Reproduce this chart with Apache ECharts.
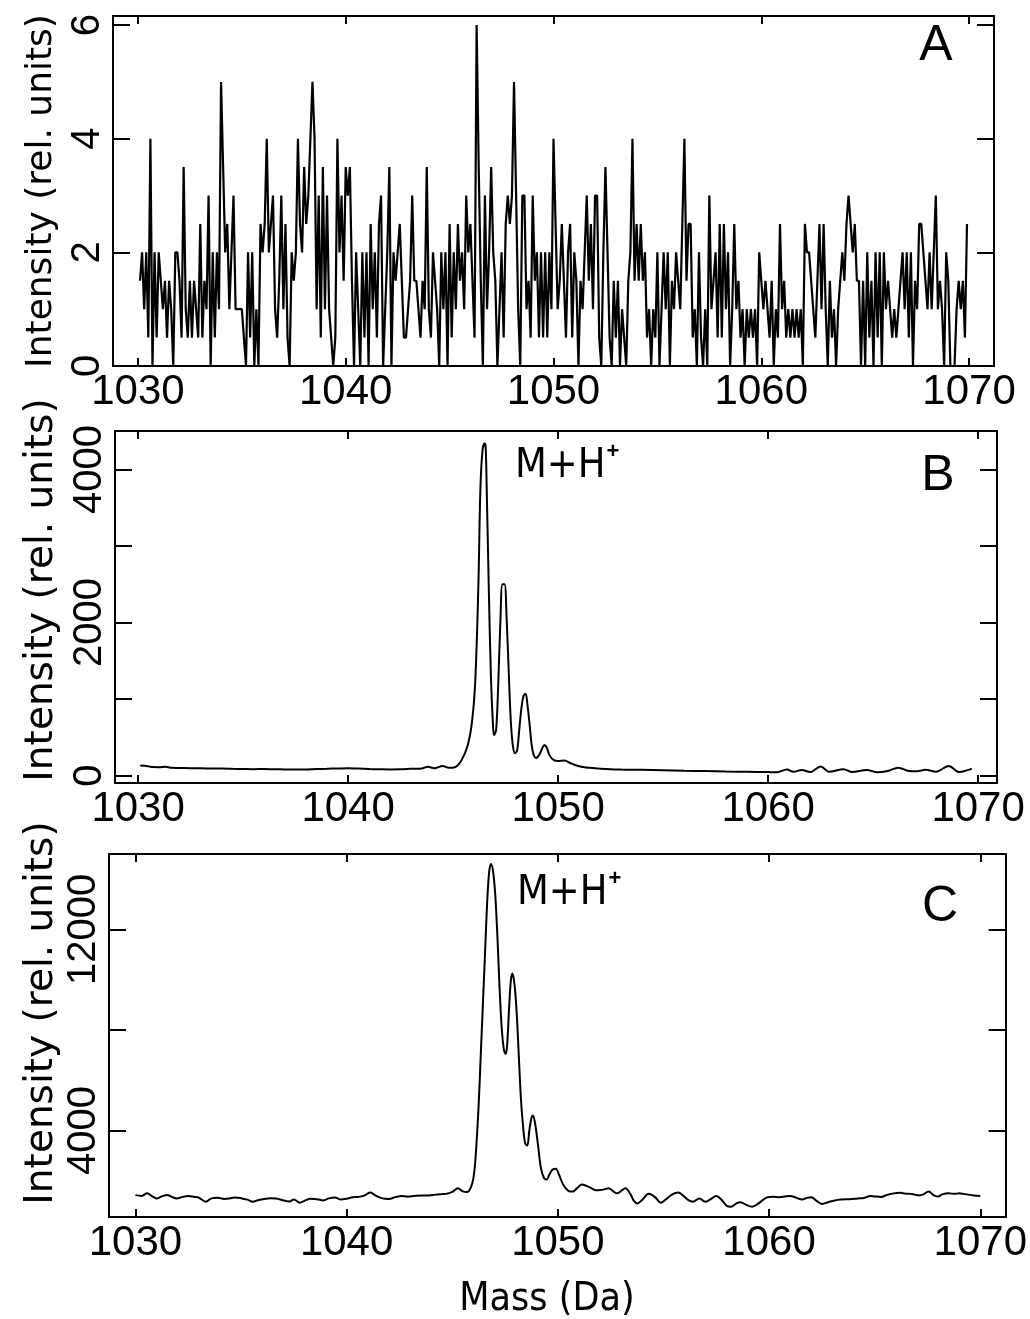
<!DOCTYPE html>
<html><head><meta charset="utf-8">
<script src="https://cdn.jsdelivr.net/npm/echarts@6/dist/echarts.min.js"></script>
<style>html,body{margin:0;padding:0;background:#fff}#c{width:1030px;height:1319px}</style>
</head><body><div id="c"></div>
<script>
// ---------- data ----------
const massTicks = [1030, 1040, 1050, 1060, 1070];

// Panel A: raw noisy spectrum sampled every 0.1 Da from 1030.1 Da
const A_START = 1030.1, A_STEP = 0.1;
const intensityA = [
  1.5,2,1,2,0.5,4,0,2,0.5,2,
  1.5,1,1.5,0.5,1.5,1,0,2,2,1.5,
  0.5,3.5,1,0.5,1.5,0.5,1.5,1,0.5,2.5,
  0.5,1.5,1,3,0,2,0.5,2,1,5,
  3.5,2,2.5,1,2,3,1,1,1,1,
  0.5,0,2,0.5,2,0,1,0,2.5,2,
  2.5,4,2,2.5,3,1,0.5,1.5,3,1,
  2.5,0.5,0,2,1.5,2,4,2.5,2,3.5,
  2.5,3,4,5,4,1,3,0.5,3.5,1,
  3,1,0.5,0,0.5,4,2,3,1.5,3.5,
  3,3.5,1.5,0,2,1,0,2,0.5,2,
  0,2.5,1,2,0.5,2.5,3,0,1,2,
  3.5,0,2,1.5,2,2.5,1.5,0.5,0.5,1,
  1.5,3,1.5,1.5,1,0.5,1.5,1,3.5,1,
  0.5,2,1.5,1,0,2,1,2,0,2.5,
  0.5,2,1,2.5,1.5,2,1,3,2,2.5,
  1.5,0.5,6,3.5,1.5,0,3,1,2,3.5,
  2,1.5,0,1,2,0.5,2.5,3,2.5,3,
  5,3,1,0,3,3,1,1.5,0.5,3,
  1.5,2,0.5,2,0.5,2,0.5,2,1,4,
  2.5,1,1.5,2.5,1.5,0.5,2,2.5,0.5,2,
  1.5,0,1.5,1,2,3,1.5,2.5,1,3,
  3,0.5,0,2,3.5,2,0.5,0,1.5,0.5,
  1.5,0,1,0.5,0,1.5,2,4,1.5,2.5,
  1.5,2.5,1.5,2,0.5,1,0,1,0.5,2,
  0,1,2,1,2,0,1.5,1,2,1.5,
  1,2.5,4,1.5,2.5,2.5,0.5,1,0,2,
  0.5,0,1,0,3,1,1.5,2,0.5,2.5,
  0.5,2.5,1,2,0,1,2.5,1,1.5,0.5,
  1,0,1,0.5,1,0.5,1,0,2,1.5,
  1,1.5,1,0.5,1.5,0,1,0.5,2.5,1,
  1.5,0.5,1,0.5,1,0.5,1,0.5,1,0,
  2.5,2,2,1.5,1,0.5,1.5,2.5,1,2.5,
  1,0,1.5,0.5,1,0,1,1.5,2,1.5,
  2.5,3,2.5,2,2.5,1.5,1.5,0,1.5,0,
  2,0.5,1.5,0,2,0.5,2,0,2,1,
  1.5,1,0.5,1,0.5,1,1.5,2,1,2,
  0.5,2,0,1.5,1,2.5,2.5,2,1.5,1,
  2,1,2,3,1,1.5,1,0,2,1.5,
  0,0,0,1,1.5,1,1.5,0.5,2.5
];

// Panel B
const massB = [1030.1,1030.4,1030.7,1031.0,1031.3,1031.6,1032.0,1032.5,1033.0,1033.5,1034.0,1034.5,1035.0,1035.5,1036.0,1036.5,1037.0,1037.5,1038.0,1038.5,1039.0,1039.5,1040.0,1040.5,1041.0,1041.5,1042.0,1042.5,1043.0,1043.5,1043.8,1044.1,1044.5,1044.8,1045.1,1045.4,1045.7,1045.9,1046.05,1046.2,1046.3,1046.4,1046.5,1046.55,1046.6,1046.7,1046.8,1046.9,1046.95,1047.05,1047.15,1047.25,1047.35,1047.45,1047.55,1047.65,1047.75,1047.85,1047.95,1048.05,1048.15,1048.25,1048.35,1048.45,1048.55,1048.65,1048.75,1048.85,1048.95,1049.1,1049.25,1049.35,1049.45,1049.6,1049.8,1050.0,1050.3,1050.6,1051.0,1051.5,1052.0,1052.5,1053.0,1053.5,1054.0,1055.0,1056.0,1057.0,1058.0,1059.0,1060.0,1060.4,1060.9,1061.2,1061.6,1062.0,1062.5,1062.9,1063.6,1064.0,1064.7,1065.2,1065.7,1066.2,1066.7,1067.1,1067.5,1068.0,1068.6,1069.1,1069.5,1069.7];
const intensityB = [130,125,110,108,115,100,98,95,95,90,92,88,85,83,85,82,80,78,80,85,88,92,95,90,85,82,80,82,88,92,115,95,125,100,110,200,400,700,1200,2450,3750,4250,4340,4300,3750,2450,1300,650,530,600,1200,2000,2500,2500,2050,1350,700,380,290,330,600,870,1040,1070,900,650,380,260,230,270,360,400,370,260,200,190,195,160,120,100,90,82,78,76,74,68,62,58,52,48,45,42,80,48,72,45,118,50,82,45,72,42,60,102,60,55,75,50,125,45,70,90];

// Panel C
const massC = [1030.0,1030.3,1030.55,1030.8,1031.0,1031.25,1031.5,1031.75,1031.95,1032.2,1032.5,1032.8,1033.0,1033.33,1033.6,1033.9,1034.2,1034.45,1034.7,1035.0,1035.3,1035.56,1035.8,1036.1,1036.4,1036.67,1037.0,1037.3,1037.5,1037.78,1038.0,1038.3,1038.6,1038.9,1039.15,1039.45,1039.7,1040.0,1040.3,1040.56,1040.8,1041.12,1041.4,1041.7,1042.0,1042.3,1042.6,1042.9,1043.2,1043.58,1043.9,1044.2,1044.5,1044.7,1045.0,1045.26,1045.5,1045.7,1045.8,1045.95,1046.05,1046.15,1046.25,1046.35,1046.45,1046.55,1046.65,1046.75,1046.84,1046.95,1047.05,1047.15,1047.25,1047.35,1047.45,1047.53,1047.6,1047.7,1047.78,1047.85,1047.95,1048.05,1048.15,1048.25,1048.35,1048.45,1048.55,1048.65,1048.75,1048.82,1048.92,1049.05,1049.2,1049.35,1049.47,1049.6,1049.75,1049.9,1050.05,1050.25,1050.5,1050.7,1050.9,1051.13,1051.35,1051.6,1051.8,1052.0,1052.2,1052.4,1052.6,1052.8,1053.0,1053.2,1053.45,1053.6,1053.77,1054.0,1054.3,1054.6,1054.87,1055.1,1055.4,1055.7,1055.95,1056.2,1056.4,1056.7,1056.97,1057.2,1057.5,1057.8,1058.0,1058.2,1058.45,1058.65,1058.9,1059.2,1059.5,1059.9,1060.2,1060.5,1060.75,1061.0,1061.3,1061.57,1061.8,1062.0,1062.25,1062.5,1062.8,1063.1,1063.4,1063.8,1064.2,1064.5,1064.8,1065.0,1065.3,1065.6,1065.9,1066.2,1066.45,1066.7,1066.9,1067.1,1067.3,1067.55,1067.8,1068.0,1068.2,1068.5,1068.8,1069.0,1069.2,1069.5,1069.7,1070.0];
const intensityC = [1430,1400,1500,1380,1300,1380,1440,1350,1300,1350,1400,1360,1330,1170,1300,1330,1280,1300,1340,1310,1250,1170,1230,1280,1310,1300,1220,1180,1260,1130,1200,1290,1270,1220,1300,1340,1260,1290,1350,1360,1400,1530,1400,1300,1280,1350,1400,1370,1400,1420,1420,1450,1470,1480,1560,1700,1580,1550,1600,1900,2400,3500,5000,7000,9000,11000,13000,14300,14600,14200,13200,11500,9500,8000,7200,7050,7400,9000,10000,10250,9800,8700,7000,5300,4200,3500,3400,4000,4500,4600,4300,3500,2500,2100,2050,2250,2450,2480,2250,1850,1600,1570,1700,1850,1800,1700,1620,1630,1660,1700,1600,1500,1600,1700,1450,1200,1100,1250,1480,1350,1130,1250,1450,1530,1400,1220,1170,1300,1170,1250,1400,1200,1000,970,1100,1150,1050,970,1100,1340,1370,1350,1380,1400,1320,1260,1320,1350,1200,1080,1150,1220,1260,1270,1300,1320,1400,1380,1360,1440,1500,1520,1490,1480,1450,1420,1460,1570,1420,1380,1460,1500,1480,1500,1480,1440,1420,1400];

const yTicksA = [0, 2, 4, 6],              yLabelsA = [0, 2, 4, 6];
const yTicksB = [0, 1000, 2000, 3000, 4000], yLabelsB = [0, 2000, 4000];
const yTicksC = [4000, 8000, 12000],        yLabelsC = [4000, 12000];

// ---------- chart ----------
const BLACK = '#000';
const LABEL_FONT = 'Liberation Sans';
const NARROW = '"DejaVu Sans Condensed", "Liberation Sans"';
const panels = [
  {grid:{left:113, top:16, width:881, height:350}, x:[1028.8,1071.2], y:[0,6.16], yt:yTicksA, yl:yLabelsA},
  {grid:{left:115, top:431, width:882, height:352}, x:[1028.9,1070.9], y:[-98,4505], yt:yTicksB, yl:yLabelsB},
  {grid:{left:109, top:854, width:899, height:363}, x:[1028.75,1071.2], y:[560,15000], yt:yTicksC, yl:yLabelsC}
];

const grids = [], xAxes = [], yAxes = [];
panels.forEach((p, i) => {
  grids.push(Object.assign({containLabel:false, show:false}, p.grid));
  const lineStyle = {color: BLACK, width: 2};
  const xBase = {type:'value', gridIndex:i, min:p.x[0], max:p.x[1], splitLine:{show:false},
    axisLine:{show:true, onZero:false, lineStyle}};
  xAxes.push(Object.assign({}, xBase, {position:'bottom',
    axisTick:{show:true, inside:true, length:8, lineStyle, customValues:massTicks},
    axisLabel:{show:true, customValues:massTicks, color:BLACK, fontSize:42, fontFamily:LABEL_FONT, margin:5,
      formatter: v => String(v)}}));
  xAxes.push(Object.assign({}, xBase, {position:'top',
    axisTick:{show:true, inside:true, length:8, lineStyle, customValues:massTicks},
    axisLabel:{show:false}}));
  const yBase = {type:'value', gridIndex:i, min:p.y[0], max:p.y[1], splitLine:{show:false},
    axisLine:{show:true, onZero:false, lineStyle}};
  yAxes.push(Object.assign({}, yBase, {position:'left',
    axisTick:{show:true, inside:true, length:17, lineStyle, customValues:p.yt},
    axisLabel:{show:true, customValues:p.yl, rotate:90, color:BLACK, fontSize:40, fontFamily:LABEL_FONT, margin:5,
      formatter: v => String(v)}}));
  yAxes.push(Object.assign({}, yBase, {position:'right',
    axisTick:{show:true, inside:true, length:17, lineStyle, customValues:p.yt},
    axisLabel:{show:false}}));
});

const dataA = intensityA.map((v, k) => [+(A_START + k * A_STEP).toFixed(2), v]);
const dataB = massB.map((m, k) => [m, intensityB[k]]);
const dataC = massC.map((m, k) => [m, intensityC[k]]);

const series = [
  {type:'line', xAxisIndex:0, yAxisIndex:0, data:dataA, symbol:'none', lineStyle:{color:BLACK, width:2.2}, animation:false},
  {type:'line', xAxisIndex:2, yAxisIndex:2, data:dataB, symbol:'none', smooth:0.35, lineStyle:{color:BLACK, width:2}, animation:false},
  {type:'line', xAxisIndex:4, yAxisIndex:4, data:dataC, symbol:'none', smooth:0.35, lineStyle:{color:BLACK, width:2}, animation:false}
];

function vText(text, x, y, size) {
  return {type:'text', x, y, rotation: Math.PI/2,
    style:{text, fill:BLACK, font: size + 'px "DejaVu Sans"', align:'center', verticalAlign:'middle',
      textAlign:'center', textVerticalAlign:'middle'}};
}
function hText(text, x, y, font) {
  return {type:'text', x, y,
    style:{text, fill:BLACK, font, align:'center', verticalAlign:'middle', textAlign:'center', textVerticalAlign:'middle'}};
}
function mh(x, y) {
  return {type:'text', x, y, style:{
    text:'{a|M+H}{b|+}', fill:BLACK, align:'left', verticalAlign:'middle',
    rich:{
      a:{fontSize:41, fontFamily:NARROW, fill:BLACK, lineHeight:46, verticalAlign:'bottom'},
      b:{fontSize:22, fontFamily:'Liberation Sans', fontWeight:'bold', fill:BLACK, lineHeight:22, verticalAlign:'top', padding:[0,0,0,1]}
    }}};
}

const graphic = [
  vText('Intensity (rel. units)', 42, 191, 36),
  vText('Intensity (rel. units)', 42, 590, 39),
  vText('Intensity (rel. units)', 42, 1013, 39),
  hText('A', 936, 46, '50px "Liberation Sans"'),
  hText('B', 938, 476, '50px "Liberation Sans"'),
  hText('C', 940, 907, '50px "Liberation Sans"'),
  mh(515, 464),
  mh(517, 891),
  hText('Mass (Da)', 547, 1300, '39px ' + NARROW)
];

const chart = echarts.init(document.getElementById('c'), null, {renderer:'canvas'});
chart.setOption({animation:false, backgroundColor:'#fff', grid:grids, xAxis:xAxes, yAxis:yAxes, series, graphic});
</script></body></html>
